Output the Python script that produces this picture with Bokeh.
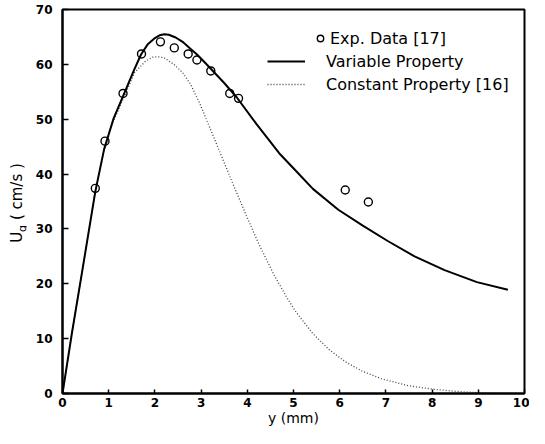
from bokeh.plotting import figure
from bokeh.models import Range1d, SingleIntervalTicker, Legend, LegendItem, Div
from bokeh.layouts import row
from bokeh.embed import file_html
from bokeh.resources import INLINE

# Experimental data [17]
exp_y = [0.71, 0.92, 1.31, 1.71, 2.12, 2.42, 2.72, 2.91, 3.21, 3.62, 3.81, 6.12, 6.62]
exp_u = [37.4, 46.0, 54.7, 61.9, 64.1, 63.0, 61.9, 60.8, 58.8, 54.7, 53.8, 37.1, 34.9]

# Variable property solution
var_y = [0, 0.2, 0.45, 0.71, 0.9, 1.1, 1.35, 1.55, 1.7, 1.84, 2.0, 2.1, 2.2, 2.3, 2.45,
         2.6, 2.75, 2.9, 3.05, 3.2, 3.5, 3.77, 4.2, 4.69, 5.05, 5.42, 5.97, 6.5, 7.04,
         7.62, 8.27, 8.97, 9.64]
var_u = [0, 10.8, 23.5, 36.8, 44.5, 50.0, 55.0, 59.0, 61.8, 63.6, 64.8, 65.3, 65.5, 65.4, 64.9,
         64.1, 63.0, 61.9, 60.6, 59.3, 56.6, 54.0, 49.1, 43.8, 40.6, 37.3, 33.5, 30.6, 27.8,
         25.0, 22.5, 20.3, 18.9]

# Constant property solution [16]
con_y = [0, 0.2, 0.45, 0.71, 0.9, 1.1, 1.35, 1.56, 1.8, 1.95, 2.06, 2.2, 2.41, 2.6, 2.77,
         2.98, 3.27, 3.62, 3.98, 4.23, 4.58, 4.87, 5.05, 5.41, 5.77, 6.12, 6.48, 6.9, 7.5,
         8.0, 8.5, 9.0, 9.65]
con_u = [0, 10.8, 23.5, 36.8, 44.3, 49.6, 54.4, 58.5, 60.6, 61.3, 61.4, 61.2, 60.0, 58.5, 56.4,
         52.7, 46.8, 39.6, 32.4, 27.6, 21.6, 17.3, 14.9, 11.0, 8.0, 5.8, 4.1, 2.7, 1.4,
         0.8, 0.4, 0.15, 0.0]

x_ticks_interval = 1
y_ticks_interval = 10

FONT = "DejaVu Sans"
LAB_W = 26

p = figure(width=529 - LAB_W, height=428, output_backend="svg", toolbar_location=None,
           x_range=Range1d(0, 10), y_range=Range1d(0, 70),
           min_border_left=62 - LAB_W, min_border_right=5, min_border_top=9,
           min_border_bottom=30)
p.background_fill_color = "white"
p.border_fill_color = "white"
p.grid.visible = False
p.outline_line_color = "black"
p.outline_line_width = 2

p.xaxis.ticker = SingleIntervalTicker(interval=x_ticks_interval, num_minor_ticks=0)
p.yaxis.ticker = SingleIntervalTicker(interval=y_ticks_interval, num_minor_ticks=0)
for ax in (p.xaxis, p.yaxis):
    ax.axis_line_color = "black"
    ax.axis_line_width = 2
    ax.major_tick_out = 0
    ax.minor_tick_out = 0
    ax.minor_tick_in = 0
    ax.major_tick_line_color = "black"
    ax.major_tick_line_width = 1.5
    ax.major_label_text_font = FONT
    ax.major_label_text_font_style = "bold"
    ax.major_label_text_font_size = "12px"
    ax.major_label_text_color = "black"
p.xaxis.major_tick_in = 4
p.yaxis.major_tick_in = 6
p.xaxis.major_label_standoff = 4
p.yaxis.major_label_standoff = 10

p.xaxis.axis_label = "y (mm)"
p.xaxis.axis_label_text_font = FONT
p.xaxis.axis_label_text_font_style = "normal"
p.xaxis.axis_label_text_font_size = "14px"
p.xaxis.axis_label_text_color = "black"
p.xaxis.axis_label_standoff = 0

r_con = p.line(con_y, con_u, line_color="#444444", line_width=1.3, line_dash="1 2")
r_var = p.line(var_y, var_u, line_color="black", line_width=2)
r_exp = p.scatter(exp_y, exp_u, marker="circle", size=8, fill_color=None,
                  line_color="black", line_width=1.4)


def style_legend(lg, glyph_w, standoff):
    lg.border_line_color = None
    lg.background_fill_alpha = 0
    lg.padding = 0
    lg.margin = 0
    lg.spacing = 3
    lg.glyph_width = glyph_w
    lg.glyph_height = 20
    lg.label_height = 20
    lg.label_standoff = standoff
    lg.label_text_font = FONT
    lg.label_text_font_size = "16px"
    lg.label_text_color = "black"


legend_exp = Legend(items=[LegendItem(label="Exp. Data [17]", renderers=[r_exp])],
                    location=(250, 345))
style_legend(legend_exp, 16, 2)
legend_lines = Legend(items=[
    LegendItem(label="Variable Property", renderers=[r_var]),
    LegendItem(label="Constant Property [16]", renderers=[r_con]),
], location=(205, 299))
style_legend(legend_lines, 38, 21)
p.add_layout(legend_exp, "center")
p.add_layout(legend_lines, "center")

# y-axis label U_g ( cm/s ) as rotated HTML text with a real subscript
ylabel_html = (
    '<div style="position:relative;width:%dpx;height:428px;">'
    '<span style="position:absolute;left:19px;top:203px;'
    'transform:translate(-50%%,-50%%) rotate(-90deg);white-space:nowrap;'
    "font-family:'DejaVu Sans';font-size:15px;color:black;line-height:1;\">"
    'U<sub style="font-size:11px;">g</sub> ( cm/s )</span></div>'
) % LAB_W
ylab = Div(text=ylabel_html, width=LAB_W, height=428, margin=0)

layout = row(ylab, p, spacing=0)
open("out.html", "w").write(file_html(layout, INLINE))
